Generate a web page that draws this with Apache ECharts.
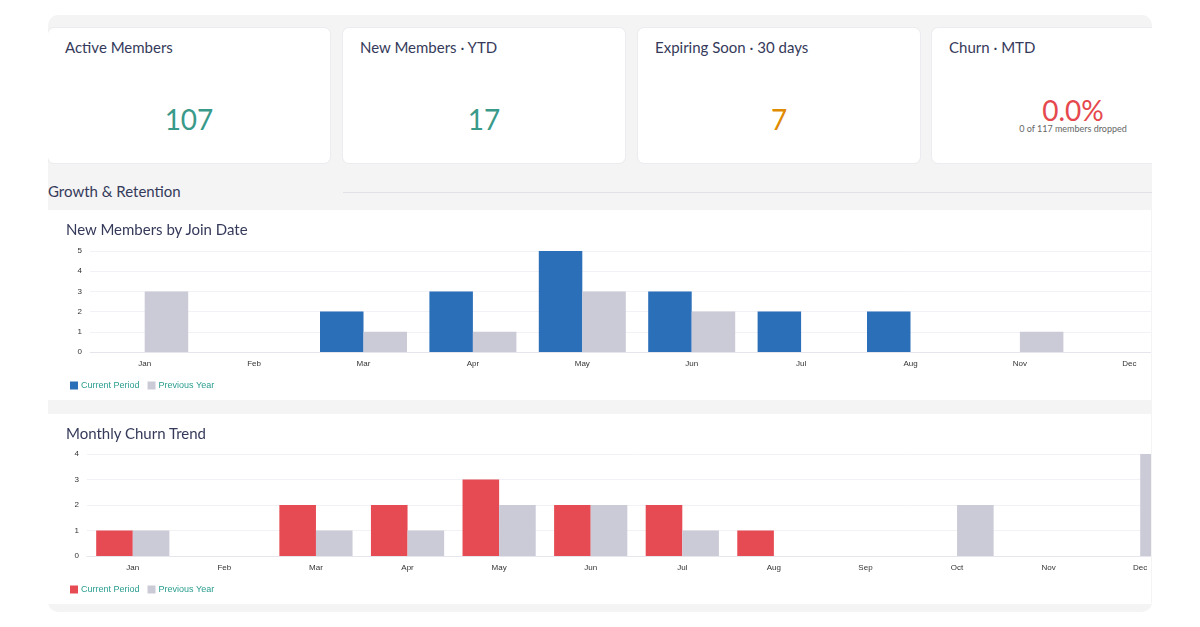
<!DOCTYPE html>
<html><head><meta charset="utf-8">
<script src="https://cdn.jsdelivr.net/npm/echarts@6/dist/echarts.min.js"></script>
<style>
body{margin:0;width:1200px;height:627px;background:#fff;font-family:Lato,"Noto Sans",sans-serif;position:relative;overflow:hidden}
#panel{position:absolute;left:48px;top:15px;width:1104px;height:597px;background:#f4f4f5;border-radius:10px;overflow:hidden}
.card{position:absolute;top:13px;width:282px;height:135px;background:#fff;border-radius:6px;box-shadow:0 0 0 1px #ececf0}
.ct{position:absolute;left:17px;top:10px;font-size:15px;color:#353a5a}
.cv{position:absolute;left:0;width:100%;text-align:center;font-size:28px}
.cs{position:absolute;left:0;width:100%;text-align:center;font-size:9px;color:#666;top:95px}
#sec{position:absolute;left:0;top:167px;font-size:15px;color:#353a5a}
#secline{position:absolute;left:295px;top:177px;width:809px;height:1px;background:#e2e2e6}
.cc{position:absolute;left:0;width:1103px;height:190px;background:#fff;overflow:hidden}
.chart{position:absolute;left:0;top:0;width:1240px;height:190px}
.tt{position:absolute;left:18px;top:10px;font-size:15px;color:#353a5a;z-index:2}
</style></head><body>
<div id="panel">
 <div class="card" style="left:0"><div class="ct">Active Members</div><div class="cv" style="top:74px;color:#3a9a8a">107</div></div>
 <div class="card" style="left:295px"><div class="ct">New Members · YTD</div><div class="cv" style="top:74px;color:#3a9a8a">17</div></div>
 <div class="card" style="left:590px"><div class="ct">Expiring Soon · 30 days</div><div class="cv" style="top:74px;color:#e08a00">7</div></div>
 <div class="card" style="left:884px"><div class="ct">Churn · MTD</div><div class="cv" style="top:65px;color:#e5484d">0.0%</div><div class="cs">0 of 117 members dropped</div></div>
 <div id="sec">Growth &amp; Retention</div><div id="secline"></div>
 <div class="cc" style="top:195px"><div class="tt">New Members by Join Date</div><div id="c1" class="chart"></div></div>
 <div class="cc" style="top:399px"><div class="tt">Monthly Churn Trend</div><div id="c2" class="chart"></div></div>
</div>
<script>
const joinMonths=['Jan','Feb','Mar','Apr','May','Jun','Jul','Aug','Nov','Dec'];
const joinCurrent=[0,0,2,3,5,3,2,2,0,0];
const joinPrevious=[3,0,1,1,3,2,0,0,1,0];
const churnMonths=['Jan','Feb','Mar','Apr','May','Jun','Jul','Aug','Sep','Oct','Nov','Dec'];
const churnCurrent=[1,0,2,2,3,2,2,1,0,0,0,0];
const churnPrevious=[1,0,1,1,2,2,1,0,0,2,0,4];
const seriesNames=['Current Period','Previous Year'];

function make(el,cats,cur,prev,color,grid,max,bw){
 const c=echarts.init(document.getElementById(el));
 c.setOption({
  animation:false,
  grid:grid,
  legend:{left:17,top:166,itemWidth:8,itemHeight:8,itemGap:8,icon:'rect',
   textStyle:{color:'#2a9d8f',fontSize:9,padding:[0,0,0,-2]}},
  xAxis:{type:'category',data:cats,axisTick:{alignWithLabel:true,lineStyle:{color:'#e5e5ee'}},
   axisLine:{lineStyle:{color:'#e5e5ee'}},axisLabel:{fontSize:8,color:'#333',margin:8}},
  yAxis:{type:'value',min:0,max:max,interval:1,axisLabel:{fontSize:8,color:'#333',margin:8},
   axisLine:{show:false},splitLine:{lineStyle:{color:'#f1f1f6'}}},
  series:[
   {name:seriesNames[0],type:'bar',data:cur,barWidth:bw,barGap:'0%',itemStyle:{color:color}},
   {name:seriesNames[1],type:'bar',data:prev,barWidth:bw,barGap:'0%',itemStyle:{color:'#cbcbd8'}}
  ]
 });
}
make('c1',joinMonths,joinCurrent,joinPrevious,'#2a6fb8',{left:42,top:41,width:1094,height:101},5,43.5);
make('c2',churnMonths,churnCurrent,churnPrevious,'#e64a52',{left:39,top:40,width:1099,height:102},4,36.6);
</script>
</body></html>
